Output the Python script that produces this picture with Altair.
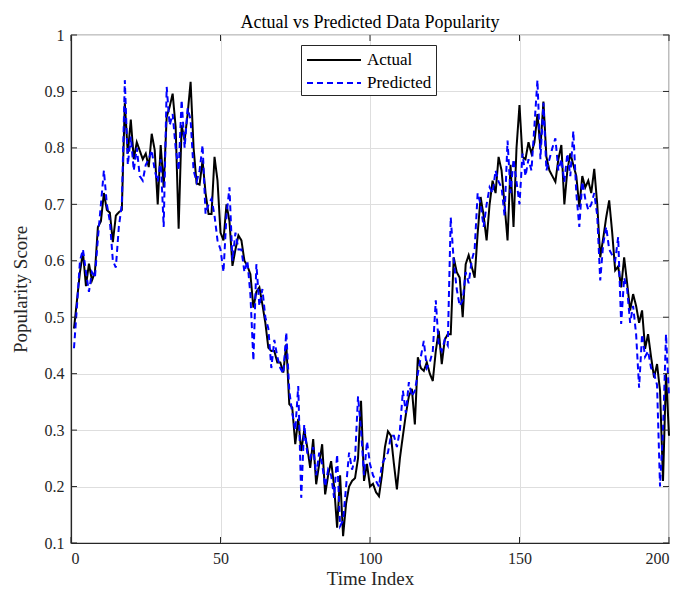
import altair as alt
import pandas as pd

t_index = list(range(1, 201))

actual = [
    0.48, 0.53, 0.58, 0.615, 0.555, 0.595, 0.565, 0.58, 0.66, 0.67,
    0.72, 0.69, 0.685, 0.633, 0.68, 0.686, 0.69, 0.88, 0.79, 0.85,
    0.78, 0.81, 0.795, 0.78, 0.79, 0.766, 0.825, 0.796, 0.70, 0.805,
    0.73, 0.855, 0.873, 0.896, 0.837, 0.657, 0.84, 0.813, 0.86, 0.917,
    0.80, 0.737, 0.735, 0.778, 0.72, 0.683, 0.683, 0.784, 0.742, 0.65,
    0.636, 0.70, 0.67, 0.591, 0.62, 0.645, 0.636, 0.60, 0.591, 0.576,
    0.517, 0.545, 0.553, 0.523, 0.49, 0.446, 0.44, 0.44, 0.42, 0.42,
    0.402, 0.452, 0.346, 0.34, 0.275, 0.32, 0.263, 0.30, 0.27, 0.233,
    0.284, 0.204, 0.24, 0.275, 0.186, 0.22, 0.245, 0.20, 0.127, 0.22,
    0.112, 0.17, 0.20, 0.21, 0.215, 0.25, 0.352, 0.21, 0.24, 0.20,
    0.205, 0.19, 0.183, 0.22, 0.27, 0.298, 0.29, 0.24, 0.195, 0.25,
    0.29, 0.328, 0.36, 0.373, 0.31, 0.429, 0.41, 0.405, 0.42, 0.40,
    0.387, 0.44, 0.476, 0.417, 0.46, 0.47, 0.47, 0.606, 0.58, 0.57,
    0.50, 0.594, 0.61, 0.59, 0.57, 0.648, 0.713, 0.68, 0.636, 0.70,
    0.742, 0.72, 0.784, 0.76, 0.70, 0.636, 0.77, 0.66, 0.80, 0.876,
    0.784, 0.78, 0.81, 0.79, 0.81, 0.86, 0.80, 0.882, 0.784, 0.76,
    0.75, 0.74, 0.78, 0.805, 0.70, 0.76, 0.79, 0.77, 0.75, 0.695,
    0.75, 0.73, 0.742, 0.72, 0.763, 0.70, 0.606, 0.64, 0.677, 0.707,
    0.65, 0.583, 0.59, 0.553, 0.606, 0.56, 0.512, 0.541, 0.52, 0.49,
    0.512, 0.444, 0.47, 0.43, 0.393, 0.417, 0.37, 0.21, 0.40, 0.29,
]

predicted = [
    0.445, 0.52, 0.60, 0.62, 0.58, 0.545, 0.58, 0.57, 0.64, 0.70,
    0.76, 0.70, 0.67, 0.60, 0.588, 0.66, 0.70, 0.92, 0.77, 0.82,
    0.76, 0.80, 0.75, 0.742, 0.77, 0.78, 0.796, 0.76, 0.74, 0.78,
    0.66, 0.908, 0.84, 0.86, 0.80, 0.76, 0.885, 0.80, 0.87, 0.85,
    0.76, 0.74, 0.76, 0.805, 0.683, 0.70, 0.71, 0.68, 0.636, 0.62,
    0.58, 0.68, 0.73, 0.60, 0.65, 0.62, 0.62, 0.58, 0.60, 0.54,
    0.423, 0.594, 0.52, 0.55, 0.50, 0.48, 0.41, 0.46, 0.43, 0.41,
    0.40, 0.473, 0.37, 0.33, 0.30, 0.378, 0.18, 0.31, 0.26, 0.25,
    0.27, 0.22, 0.26, 0.24, 0.20, 0.23, 0.22, 0.18, 0.257, 0.13,
    0.14, 0.20, 0.26, 0.23, 0.25, 0.36, 0.30, 0.22, 0.28, 0.24,
    0.22, 0.21, 0.20, 0.24, 0.25, 0.26, 0.29, 0.29, 0.27, 0.30,
    0.37, 0.33, 0.385, 0.36, 0.37, 0.40, 0.43, 0.458, 0.41, 0.42,
    0.44, 0.53, 0.45, 0.44, 0.46, 0.45, 0.677, 0.60, 0.55, 0.52,
    0.53, 0.58, 0.56, 0.60, 0.62, 0.72, 0.70, 0.66, 0.70, 0.73,
    0.72, 0.76, 0.74, 0.73, 0.68, 0.813, 0.72, 0.78, 0.74, 0.70,
    0.79, 0.75, 0.78, 0.76, 0.84, 0.92, 0.78, 0.88, 0.76, 0.78,
    0.80, 0.817, 0.76, 0.78, 0.74, 0.79, 0.75, 0.83, 0.72, 0.66,
    0.74, 0.71, 0.69, 0.70, 0.72, 0.68, 0.565, 0.63, 0.66, 0.62,
    0.61, 0.60, 0.642, 0.488, 0.57, 0.55, 0.49, 0.52, 0.47, 0.375,
    0.47, 0.43, 0.44, 0.41, 0.40, 0.38, 0.20, 0.30, 0.47, 0.36,
]

series_names = ["Actual", "Predicted"]
x_ticks = [0, 50, 100, 150, 200]
y_ticks = [0.1, 0.2, 0.3, 0.4, 0.5, 0.6, 0.7, 0.8, 0.9, 1.0]

df = pd.DataFrame({
    "t": t_index * 2,
    "value": actual + predicted,
    "series": ["Actual"] * len(actual) + ["Predicted"] * len(predicted),
})

FONT = "Liberation Serif"
W, H = 598, 508
AX = "#262626"

xscale = alt.Scale(domain=[0, 200], nice=False, zero=False)
yscale = alt.Scale(domain=[0.1, 1.0], nice=False, zero=False)

legend = alt.Legend(
    title=None, orient="none", legendX=230, legendY=10,
    padding=4, strokeColor=AX, fillColor="white", cornerRadius=0,
    symbolType="M-0.9,0H4.5", symbolSize=400, symbolStrokeWidth=2,
    labelFont=FONT, labelFontSize=17, labelColor="black",
    rowPadding=4, labelOffset=40,
)

lines = alt.Chart(df).mark_line(strokeWidth=2).encode(
    x=alt.X("t:Q", scale=xscale,
            axis=alt.Axis(values=x_ticks, title="Time Index", format="d")),
    y=alt.Y("value:Q", scale=yscale,
            axis=alt.Axis(values=y_ticks, title="Popularity Score", format=".1~f")),
    color=alt.Color("series:N",
                    scale=alt.Scale(domain=series_names, range=["black", "blue"]),
                    legend=legend),
    strokeDash=alt.StrokeDash("series:N",
                              scale=alt.Scale(domain=series_names, range=[[1, 0], [6, 4]]),
                              legend=legend),
    order=alt.Order("t:Q"),
)

xt_df = pd.DataFrame({"t": x_ticks})
yt_df = pd.DataFrame({"value": y_ticks})

bottom_ticks = alt.Chart(xt_df).mark_rule(color=AX, strokeWidth=1).encode(
    x=alt.X("t:Q", scale=xscale), y=alt.value(H), y2=alt.value(H - 6))
top_ticks = alt.Chart(xt_df).mark_rule(color=AX, strokeWidth=1).encode(
    x=alt.X("t:Q", scale=xscale), y=alt.value(0), y2=alt.value(6))
left_ticks = alt.Chart(yt_df).mark_rule(color=AX, strokeWidth=1).encode(
    y=alt.Y("value:Q", scale=yscale), x=alt.value(0), x2=alt.value(6))
right_ticks = alt.Chart(yt_df).mark_rule(color=AX, strokeWidth=1).encode(
    y=alt.Y("value:Q", scale=yscale), x=alt.value(W), x2=alt.value(W - 6))

chart = alt.layer(lines, bottom_ticks, top_ticks, left_ticks, right_ticks).properties(
    width=W, height=H,
    padding={"left": 63, "top": 27, "right": 4, "bottom": 50},
    autosize=alt.AutoSizeParams(type="none"),
    title=alt.TitleParams("Actual vs Predicted Data Popularity", font=FONT,
                          fontSize=18, fontWeight="normal", color="black",
                          anchor="middle", offset=-5),
    background="white",
).configure_view(
    stroke=AX, strokeWidth=1.2
).configure_axis(
    labelFont=FONT, labelFontSize=16, labelColor="#262626",
    titleFont=FONT, titleFontSize=19, titleFontWeight="normal", titleColor="#262626",
    tickSize=0, labelPadding=7, domainColor=AX, domainWidth=1.2,
    gridColor="#dedede", gridWidth=1, grid=True,
).configure_axisY(
    titlePadding=14,
).configure_axisX(
    titlePadding=3,
)

chart.save("out.html", embed_options={"renderer": "svg", "actions": False})
